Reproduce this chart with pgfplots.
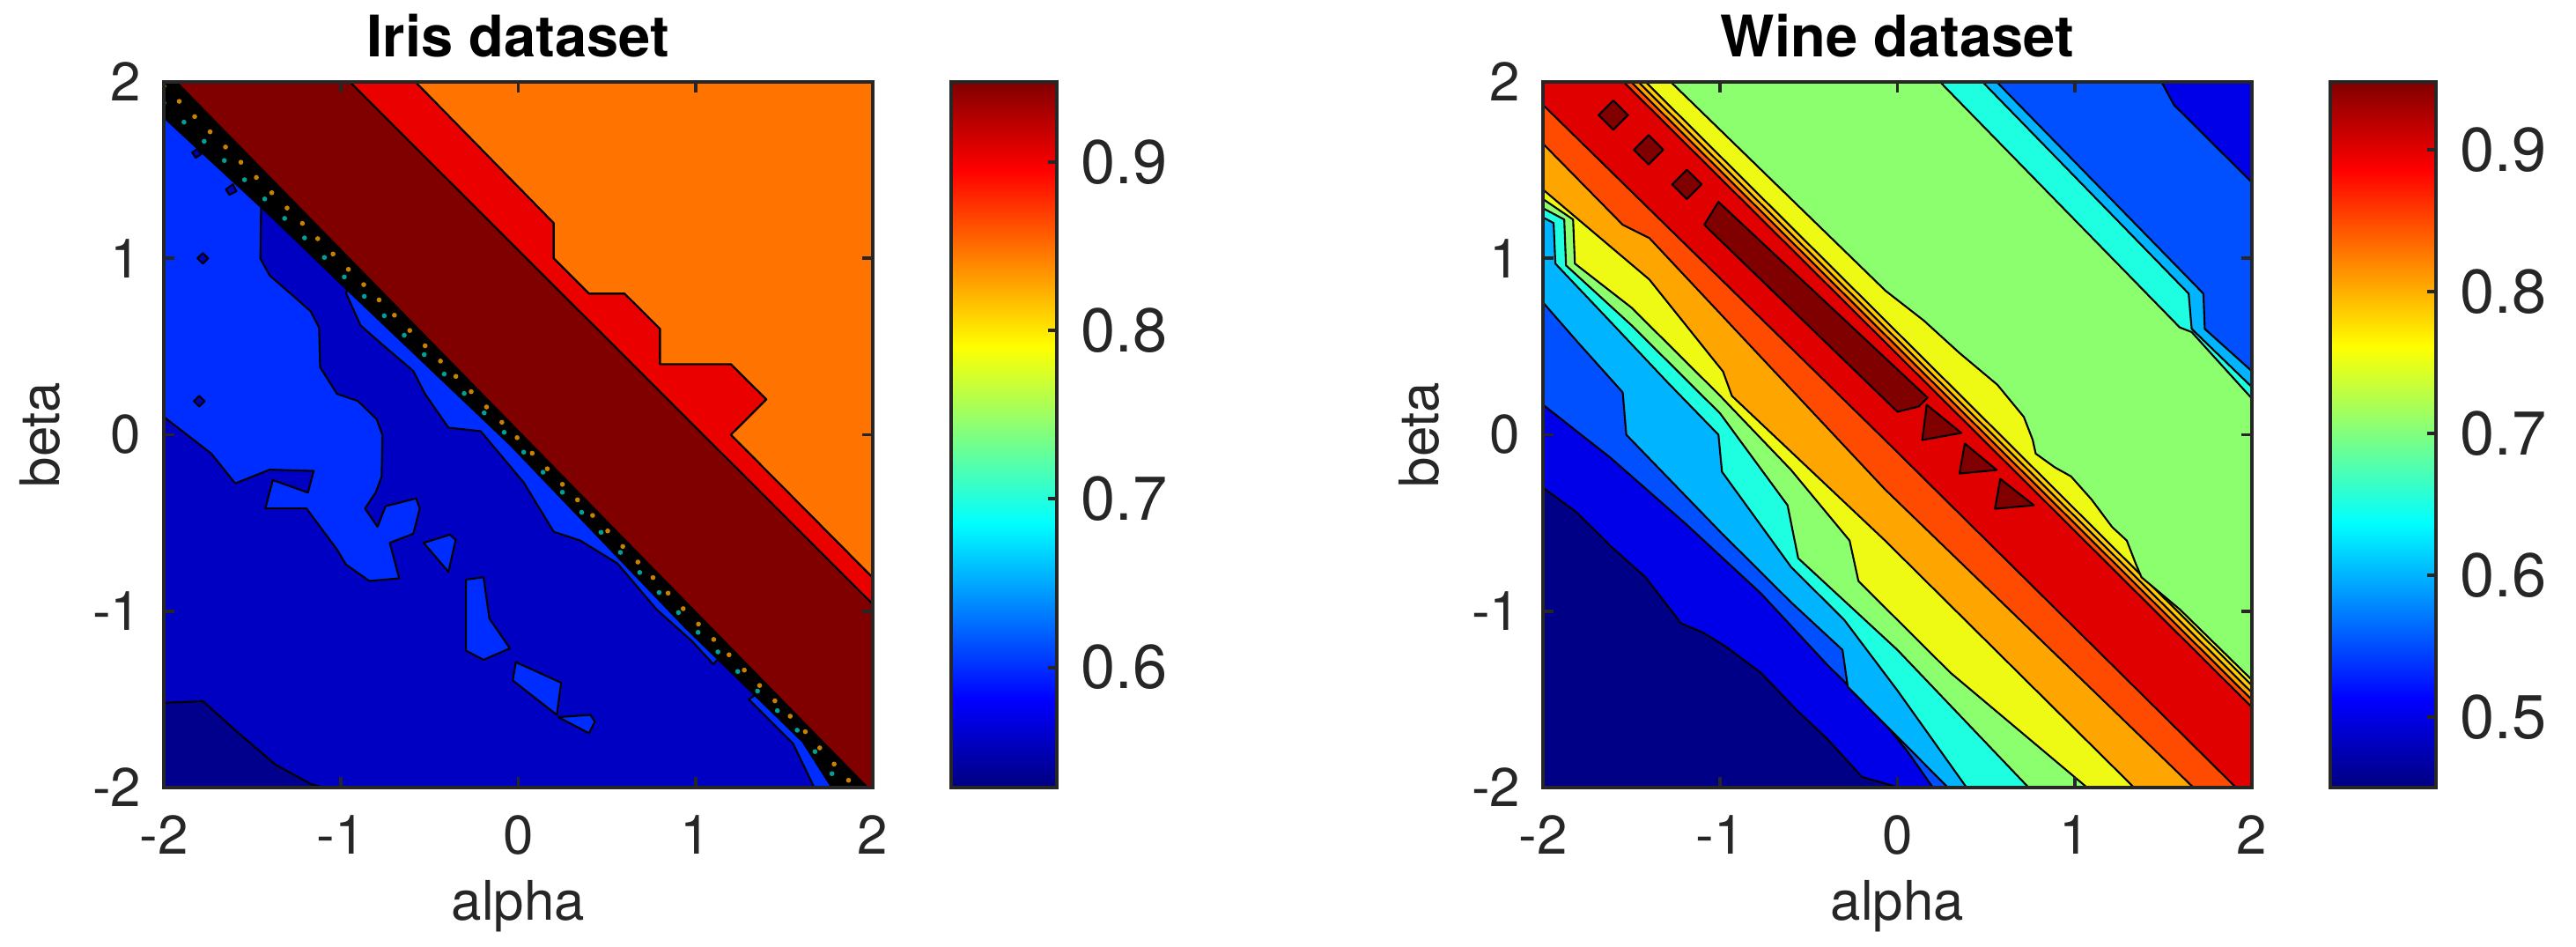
\documentclass[border=0pt]{standalone}
\usepackage{fontspec}
\setmainfont{TeX Gyre Heros}
\usepackage{pgfplots}
\pgfplotsset{compat=1.18}

\definecolor{axgray}{RGB}{38,38,38}
% Iris levels
\definecolor{iNavy}{RGB}{0,0,140}
\definecolor{iBlue}{RGB}{0,0,195}
\definecolor{iMid}{RGB}{0,45,255}
\definecolor{iOrange}{RGB}{255,115,0}
\definecolor{iRed}{RGB}{235,0,0}
\definecolor{dRed}{RGB}{128,0,0}
% Wine levels
\definecolor{wNavy}{RGB}{0,0,135}
\definecolor{wBlue}{RGB}{0,0,232}
\definecolor{wMid}{RGB}{0,80,255}
\definecolor{wLight}{RGB}{0,180,255}
\definecolor{wCyan}{RGB}{30,255,225}
\definecolor{wGreen}{RGB}{140,255,110}
\definecolor{wYellow}{RGB}{238,250,20}
\definecolor{wGold}{RGB}{255,205,0}
\definecolor{wOrange}{RGB}{255,165,0}
\definecolor{wOrRed}{RGB}{255,75,0}
\definecolor{wRed}{RGB}{225,0,0}

\newcommand{\tickfont}{\fontsize{17.6}{20}\selectfont}
\newcommand{\cbfont}{\fontsize{20}{24}\selectfont}
\newcommand{\titlefont}{\fontsize{18.5}{22}\selectfont\bfseries}

\pgfplotsset{
  contourmap/.style={
    width=8.05cm, height=8.01cm, scale only axis,
    xmin=-2, xmax=2, ymin=-2, ymax=2,
    axis on top,
    xtick={-2,-1,0,1,2}, ytick={-2,-1,0,1,2},
    xticklabels={-2,-1,0,1,2}, yticklabels={-2,-1,0,1,2},
    tick align=inside, major tick length=0.12cm,
    axis line style={axgray, line width=1.1pt},
    tick style={axgray, line width=1.1pt},
    ticklabel style={font=\tickfont, text=axgray},
    xticklabel style={anchor=base, yshift=-0.76cm},
    yticklabel style={anchor=east, inner sep=0pt, xshift=-0.25cm},
    xlabel={alpha}, ylabel={beta},
    label style={font=\tickfont, text=axgray},
    xlabel style={at={(axis description cs:0.5,0)}, anchor=base, yshift=-1.51cm},
    ylabel style={at={(axis description cs:-0.1745,0.5)}, anchor=center},
    every axis title shift=0pt,
    title style={at={(axis description cs:0.5,1)}, anchor=base, yshift=0.28cm, font=\titlefont},
    colormap/jet, colorbar,
    colorbar/width=1.2cm,
    colorbar style={
      height=8.01cm,
      at={(parent axis.north east)}, anchor=north west, xshift=0.59cm,
      axis line style={axgray, line width=1.1pt},
      tick style={axgray, line width=1.1pt},
      tick align=inside, major tick length=0.1cm,
      ytick pos=right,
      yticklabel style={font=\cbfont, text=axgray, anchor=west, inner sep=0pt, xshift=0.27cm},
    },
  },
  cf/.style={draw=black, line width=0.6pt, line join=round},
}

\begin{document}
\begin{tikzpicture}
\path[use as bounding box] (-1.86cm,-1.81cm) rectangle (27.39cm,8.94cm);

% ---------------- Iris ----------------
\begin{axis}[contourmap, at={(0cm,0cm)}, anchor=south west,
  title={Iris dataset},
  point meta min=0.5287, point meta max=0.9474,
  colorbar style={ytick={0.6,0.7,0.8,0.9}, yticklabels={0.6,0.7,0.8,0.9}}]

\addplot[fill=iBlue, draw=none] coordinates {(-2,-2) (2,-2) (2,2) (-2,2)} -- cycle;

\addplot[cf, fill=iNavy] coordinates {(-2,-1.52) (-1.78,-1.51) (-1.58,-1.69) (-1.37,-1.87)
  (-1.17,-1.98) (-1.10,-2) (-2,-2)} -- cycle;

\addplot[cf, fill=iMid] coordinates {(-2,1.95) (-1.45,1.40) (-1.455,0.998) (-1.402,0.902)
  (-1.253,0.772) (-1.171,0.699) (-1.124,0.608) (-1.118,0.382) (-1.022,0.231) (-0.906,0.192)
  (-0.799,0.088) (-0.766,-0.003) (-0.771,-0.237) (-0.804,-0.327) (-0.865,-0.418) (-0.794,-0.522)
  (-0.749,-0.405) (-0.576,-0.361) (-0.556,-0.418) (-0.592,-0.561) (-0.725,-0.613) (-0.708,-0.678)
  (-0.672,-0.814) (-0.840,-0.829) (-0.972,-0.736) (-1.022,-0.652) (-1.195,-0.418) (-1.427,-0.418)
  (-1.385,-0.257) (-1.187,-0.328) (-1.154,-0.205) (-1.402,-0.198) (-1.597,-0.276) (-1.732,-0.107)
  (-1.815,-0.042) (-2,0.101)} -- cycle;

% small dark specks inside the lighter region
\addplot[cf, fill=iBlue] coordinates {(-1.81,1.00) (-1.78,1.03) (-1.75,1.00) (-1.78,0.97)} -- cycle;
\addplot[cf, fill=iBlue] coordinates {(-1.83,0.19) (-1.80,0.22) (-1.77,0.19) (-1.80,0.16)} -- cycle;
\addplot[cf, fill=iBlue] coordinates {(-1.84,1.60) (-1.81,1.62) (-1.79,1.59) (-1.82,1.57)} -- cycle;
\addplot[cf, fill=iBlue] coordinates {(-1.65,1.39) (-1.61,1.42) (-1.59,1.38) (-1.63,1.36)} -- cycle;

% islands
\addplot[cf, fill=iMid] coordinates {(-0.534,-0.613) (-0.386,-0.567) (-0.353,-0.595) (-0.394,-0.777)} -- cycle;
\addplot[cf, fill=iMid] coordinates {(-0.295,-0.821) (-0.196,-0.808) (-0.163,-1.042) (-0.047,-1.211)
  (-0.196,-1.276) (-0.295,-1.224)} -- cycle;
\addplot[cf, fill=iMid] coordinates {(-0.014,-1.289) (0.242,-1.406) (0.217,-1.588) (-0.031,-1.393)} -- cycle;
\addplot[cf, fill=iMid] coordinates {(0.226,-1.601) (0.407,-1.588) (0.432,-1.627) (0.399,-1.692)} -- cycle;

% sliver and wedge along the steep edge
\addplot[cf, fill=iMid] coordinates {(-0.972,0.803) (-0.89,0.62) (-0.774,0.517) (-0.592,0.361)
  (-0.526,0.231) (-0.394,0.04) (-0.212,0.02) (0.03,-0.27) (0.20,-0.55) (0.35,-0.60) (0.56,-0.73)
  (0.78,-0.99) (0.98,-1.17) (1.10,-1.30) (1.20,-1.20) (-0.90,0.95)} -- cycle;
\addplot[cf, fill=iMid] coordinates {(1.30,-1.50) (1.55,-1.75) (1.67,-2) (1.80,-2) (1.45,-1.40)} -- cycle;

% steep transition
\addplot[fill=black, draw=black, line width=0.6pt] coordinates {(-2,2) (-1.93,2) (1.97,-2) (1.77,-2)
  (1.605,-1.74) (0.944,-1.094) (-0.047,-0.055) (-0.972,0.829) (-1.402,1.245) (-2,1.80)} -- cycle;
\addplot[color={rgb,255:red,200;green,130;blue,0}, line width=1.6pt, line cap=round,
  dash pattern=on 0pt off 7pt] coordinates {(-2,1.976) (-1.402,1.383) (-0.972,0.951)
  (-0.047,0.025) (0.944,-1.0) (1.605,-1.667) (1.90,-2)};
\addplot[color={rgb,255:red,0;green,160;blue,150}, line width=1.6pt, line cap=round,
  dash pattern=on 0pt off 9pt] coordinates {(-2,1.881) (-1.402,1.309) (-0.972,0.885)
  (-0.047,-0.018) (0.944,-1.05) (1.605,-1.706) (1.83,-2)};

\addplot[cf, fill=dRed] coordinates {(-1.93,2) (-0.95,2) (2,-0.96) (2,-2) (1.97,-2)} -- cycle;
\addplot[cf, fill=iRed] coordinates {(-0.95,2) (-0.58,2) (0.2,1.2) (0.2,1.0) (0.4,0.8) (0.6,0.8)
  (0.8,0.6) (0.8,0.4) (1.2,0.4) (1.4,0.2) (1.2,0.0) (2,-0.81) (2,-0.96)} -- cycle;
\addplot[cf, fill=iOrange] coordinates {(-0.58,2) (2,2) (2,-0.81) (1.2,0.0) (1.4,0.2) (1.2,0.4)
  (0.8,0.4) (0.8,0.6) (0.6,0.8) (0.4,0.8) (0.2,1.0) (0.2,1.2)} -- cycle;
\end{axis}

% ---------------- Wine ----------------
\begin{axis}[contourmap, at={(15.66cm,0cm)}, anchor=south west,
  title={Wine dataset},
  point meta min=0.4502, point meta max=0.9478,
  colorbar style={ytick={0.5,0.6,0.7,0.8,0.9}, yticklabels={0.5,0.6,0.7,0.8,0.9}}]

\addplot[fill=wNavy, draw=none] coordinates {(-2,-2) (2,-2) (2,2) (-2,2)} -- cycle;

% lower-left side, rising towards the ridge
\addplot[cf, fill=wBlue] coordinates {(-2,-0.30) (-1.81,-0.44) (-1.62,-0.63) (-1.42,-0.81)
  (-1.22,-1.07) (-1.10,-1.12) (-0.97,-1.20) (-0.77,-1.35) (-0.57,-1.56) (-0.40,-1.72)
  (-0.20,-1.94) (0.01,-2) (2,-2) (2,2) (-2,2)} -- cycle;
\addplot[cf, fill=wMid] coordinates {(-2,0.17) (-1.62,-0.13) (-1.20,-0.50) (-0.77,-0.90)
  (-0.40,-1.30) (-0.10,-1.60) (0.06,-1.80) (0.20,-2) (2,-2) (2,2) (-2,2)} -- cycle;
\addplot[cf, fill=wLight] coordinates {(-2,0.75) (-1.80,0.52) (-1.55,0.24) (-1.53,0.0)
  (-1.0,-0.55) (-0.6,-0.95) (-0.31,-1.22) (-0.28,-1.43) (0.285,-2) (2,-2) (2,2) (-2,2)} -- cycle;
\addplot[cf, fill=wCyan] coordinates {(-2,1.232) (-1.94,1.20) (-1.93,0.97) (-1.6,0.62) (-1.3,0.30)
  (-1.01,0.0) (-0.99,-0.21) (-0.6,-0.75) (-0.3,-1.05) (0.0,-1.45) (0.39,-2) (2,-2) (2,2) (-2,2)} -- cycle;
\addplot[cf, fill=wGreen] coordinates {(-2,1.284) (-1.88,1.22) (-1.87,0.96) (-1.5,0.62) (-1.0,0.12)
  (-0.62,-0.40) (-0.56,-0.70) (0.0,-1.22) (0.74,-2) (2,-2) (2,2) (-2,2)} -- cycle;
\addplot[cf, fill=wYellow] coordinates {(-2,1.336) (-1.83,1.22) (-1.82,0.97) (-1.5,0.72) (-1.0,0.22)
  (-0.6,-0.2) (-0.27,-0.6) (-0.22,-0.83) (0.3,-1.35) (1.07,-2) (2,-2) (2,2) (-2,2)} -- cycle;
\addplot[cf, fill=wOrange] coordinates {(-2,1.39) (-1.4,0.88) (-0.984,0.358) (-0.934,0.22)
  (-0.07,-0.60) (1.335,-2) (2,-2) (2,2) (-2,2)} -- cycle;
\addplot[cf, fill=wOrRed] coordinates {(-2,1.65) (-1.55,1.19) (-1.40,1.115) (-1.33,1.04)
  (-0.07,-0.31) (1.67,-2) (2,-2) (2,2) (-2,2)} -- cycle;
\addplot[cf, fill=wRed] coordinates {(-2,1.87) (-0.07,-0.03) (1.91,-2) (2,-2) (2,2) (-2,2)} -- cycle;

% upper-right side, falling away from the ridge
\addplot[cf, fill=wOrRed] coordinates {(-1.545,2) (2,-1.545) (2,2)} -- cycle;
\addplot[cf, fill=wOrange] coordinates {(-1.503,2) (2,-1.503) (2,2)} -- cycle;
\addplot[cf, fill=wGold] coordinates {(-1.462,2) (2,-1.462) (2,2)} -- cycle;
\addplot[cf, fill=wYellow] coordinates {(-1.421,2) (2,-1.421) (2,2)} -- cycle;
\addplot[cf, fill=wGreen] coordinates {(-1.279,2) (-0.067,0.816) (0.149,0.647) (0.348,0.465)
  (0.564,0.283) (0.713,0.101) (0.763,-0.029) (0.780,-0.107) (0.888,-0.185) (0.979,-0.236)
  (1.095,-0.367) (1.211,-0.523) (1.294,-0.600) (1.344,-0.730) (1.377,-0.808) (1.593,-0.990)
  (2,-1.390) (2,2)} -- cycle;
\addplot[cf, fill=wCyan] coordinates {(0.24,2) (1.593,0.608) (1.66,0.582) (2,0.205) (2,2)} -- cycle;
\addplot[cf, fill=wLight] coordinates {(0.48,2) (1.643,0.80) (1.66,0.60) (2,0.27) (2,2)} -- cycle;
\addplot[cf, fill=wMid] coordinates {(0.56,2) (1.726,0.80) (1.734,0.60) (2,0.36) (2,2)} -- cycle;
\addplot[cf, fill=wBlue] coordinates {(1.49,2) (1.56,1.87) (2,1.43) (2,2)} -- cycle;

% peak islands
\addplot[cf, fill=dRed] coordinates {(-1.686,1.812) (-1.603,1.895) (-1.520,1.812) (-1.603,1.729)} -- cycle;
\addplot[cf, fill=dRed] coordinates {(-1.487,1.615) (-1.404,1.698) (-1.321,1.615) (-1.404,1.532)} -- cycle;
\addplot[cf, fill=dRed] coordinates {(-1.271,1.419) (-1.188,1.502) (-1.105,1.419) (-1.188,1.336)} -- cycle;
\addplot[cf, fill=dRed] coordinates {(-1.09,1.19) (-1.01,1.32) (0.17,0.21) (0.12,0.16) (0.0,0.13)} -- cycle;
\addplot[cf, fill=dRed] coordinates {(0.14,-0.03) (0.165,0.17) (0.36,0.01)} -- cycle;
\addplot[cf, fill=dRed] coordinates {(0.35,-0.22) (0.38,-0.05) (0.56,-0.20)} -- cycle;
\addplot[cf, fill=dRed] coordinates {(0.55,-0.42) (0.58,-0.25) (0.77,-0.40)} -- cycle;
\end{axis}
\end{tikzpicture}
\end{document}
